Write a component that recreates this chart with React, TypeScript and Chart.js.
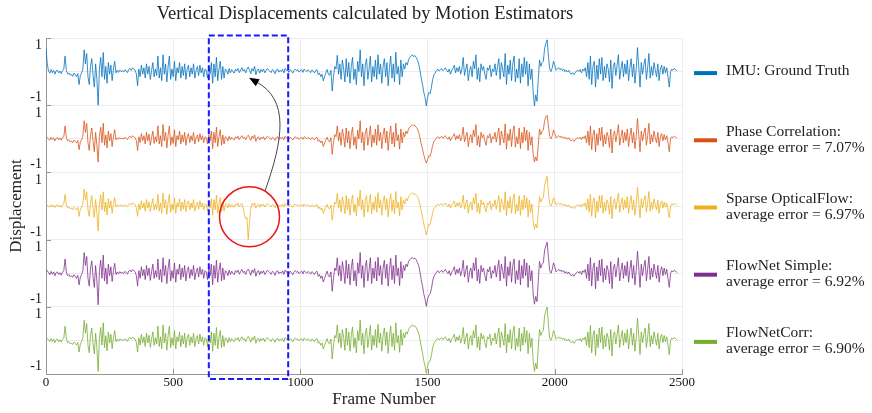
import React, { useEffect, useRef } from "react";
import { Chart, registerables } from "chart.js";

Chart.register(...registerables);

// ---------------- data ----------------
const TITLE = "Vertical Displacements calculated by Motion Estimators";
const X_TITLE = "Frame Number";
const Y_TITLE = "Displacement";
const FRAME_STEP = 5; // frames between samples
const X_MIN = 0;
const X_MAX = 2500;
const X_TICK_STEP = 500;
const Y_TICK_LABELS = ["1", "-1"];
const PANEL_HALF = 1.3; // each panel spans -1.3 .. 1.3

const LEGEND_LABELS = [
  ["IMU: Ground Truth"],
  ["Phase Correlation:", "average error = 7.07%"],
  ["Sparse OpticalFlow:", "average error = 6.97%"],
  ["FlowNet Simple:", "average error = 6.92%"],
  ["FlowNetCorr:", "average error = 6.90%"],
];
const SERIES_COLORS = ["#0072BD", "#D95319", "#EDB120", "#7E2F8E", "#77AC30"];

const IMU = [
  0.9, 0.3, 0.02, -0.06, 0.08, -0.04, 0.05, -0.1, 0.03, 0.06, -0.05, 0.02, -0.08, 0.04, 0.1, 0.6, 0.05, -0.1, -0.05, -0.14,
  -0.1, -0.18, -0.06, -0.12, -0.2, -0.08, -0.5, -0.15, -0.05, 0.1, 0.84, 0.3, 0.7, -0.2, -0.5, 0.2, 0.5, -0.15, -0.6, 0.3,
  -0.3, -1.3, 0.1, 0.55, -0.2, 0.74, -0.3, 0.2, -0.45, 0.35, -0.1, 0.25, -0.35, 0.1, 0.4, -0.05, 0.05, -0.03, 0.06, 0.0,
  0.04, -0.02, 0.07, 0.03, -0.04, 0.08, 0.12, 0.05, 0.15, 0.1, 0.06, -0.08, -0.55, 0.1, -0.2, 0.25, -0.1, 0.15, -0.25, 0.3,
  -0.1, 0.2, -0.3, 0.05, 0.35, -0.2, 0.1, -0.15, 0.6, -0.25, 0.15, -0.35, 0.65, -0.1, 0.3, -0.4, 0.2, 0.6, -0.3, 0.1,
  -0.2, 0.4, -0.35, 0.15, -0.05, 0.35, -0.25, 0.2, -0.15, 0.3, -0.3, 0.1, 0.25, -0.2, 0.15, -0.1, 0.3, -0.25, 0.05, 0.2,
  -0.15, 0.25, -0.05, 0.15, -0.2, 0.1, 0.05, -0.25, 0.2, -0.1, 0.35, -0.45, 0.3, -0.2, 0.55, -0.35, 0.1, 0.4, -0.3, 0.2,
  -0.25, 0.1, 0.05, -0.1, 0.12, -0.05, 0.08, 0.0, -0.06, 0.1, 0.03, 0.12, -0.04, 0.06, 0.15, 0.02, 0.08, -0.05, 0.1, 0.18,
  0.05, -0.08, 0.12, 0.02, 0.2, -0.12, 0.04, 0.1, -0.06, 0.08, 0.0, 0.1, -0.05, 0.04, 0.12, 0.06, 0.02, -0.04, 0.08, 0.03,
  -0.08, 0.06, 0.1, -0.02, 0.05, 0.0, 0.09, -0.05, 0.12, 0.04, 0.06, -0.03, 0.08, 0.02, -0.06, 0.05, 0.1, 0.03, 0.07, -0.02,
  0.04, 0.08, -0.03, 0.1, 0.05, 0.0, 0.07, 0.03, -0.04, 0.06, 0.02, -0.05, 0.04, 0.08, -0.12, -0.05, -0.2, -0.1, -0.36, -0.2,
  -0.05, 0.08, -0.1, -0.15, 0.05, -0.75, -0.2, 0.2, 0.1, 0.63, -0.1, 0.3, -0.3, 0.45, 0.1, -0.4, 0.5, -0.2, 0.35, -0.45,
  0.2, 0.55, -0.3, 0.1, -0.5, 0.4, 0.0, 0.84, -0.2, 0.3, -0.55, 0.25, 0.5, -0.3, 0.1, 0.6, -0.4, 0.2, -0.2, 0.45,
  -0.3, 0.65, -0.1, 0.3, -0.45, 0.2, 0.5, -0.2, 0.35, -0.55, 0.15, 0.6, -0.25, 0.3, -0.4, 0.75, -0.1, 0.2, -0.5, 0.45,
  -0.2, 0.3, 0.1, 0.35, 0.25, 0.45, 0.55, 0.6, 0.65, 0.58, 0.62, 0.55, 0.45, 0.3, 0.05, -0.25, -0.5, -0.8, -1.0, -1.33,
  -1.0, -0.8, -0.85, -0.6, -0.3, -0.12, -0.05, 0.04, 0.1, 0.02, 0.06, 0.12, 0.03, 0.08, 0.15, 0.05, -0.02, 0.1, -0.1, 0.05,
  0.12, 0.25, -0.05, 0.15, 0.0, 0.2, -0.1, 0.1, 0.55, -0.15, 0.1, 0.3, -0.35, 0.05, 0.2, -0.2, 0.4, 0.1, 0.65, -0.3,
  0.15, -0.4, 0.3, 0.05, 0.2, -0.1, -0.3, 0.15, 0.05, 0.25, -0.2, 0.1, 0.0, 0.3, -0.15, 0.2, 0.5, -0.3, 0.35, 0.1,
  -0.2, 0.7, -0.5, 0.25, -0.1, 0.45, -0.35, 0.3, 0.6, -0.4, 0.1, -0.25, 0.5, -0.45, 0.3, -0.2, 0.55, -0.1, 0.4, -0.55,
  0.3, -0.3, 0.1, -0.8, -1.33, -0.9, -1.15, -0.3, 0.45, 0.2, 0.35, 0.4, 0.9, 1.1, 1.23, 0.6, 0.1, 0.0, 0.15, 0.4,
  0.25, 0.05, 0.1, 0.15, 0.08, 0.12, 0.04, 0.1, 0.0, 0.06, -0.02, 0.05, -0.06, -0.1, -0.04, -0.12, -0.05, 0.02, 0.06, 0.0,
  0.08, -0.05, 0.1, 0.03, 0.15, -0.2, 0.35, -0.3, 0.6, -0.5, 0.2, 0.4, -0.6, 0.25, -0.3, 0.5, -0.1, 0.55, -0.35, 0.2,
  -0.25, 0.3, 0.1, -0.4, 0.45, -0.65, 0.2, 0.35, -0.15, 0.25, 0.65, -0.3, 0.1, 0.4, -0.2, 0.3, -0.1, 0.45, -0.35, 0.15,
  0.5, -0.2, 0.3, -0.45, 0.1, 0.93, 0.2, -0.6, 0.35, -0.1, 0.25, 0.5, -0.3, 0.15, 0.7, -0.25, 0.2, -0.15, 0.35, 0.05,
  -0.2, 0.3, -0.35, 0.1, 0.25, -0.1, 0.2, -0.05, 0.15, -0.2, -0.6, 0.0, 0.1, 0.05, 0.12, 0.08, 0.02,
];

const PHASE_CORR = [
  0.1, 0.05, -0.02, -0.05, 0.06, -0.03, 0.04, -0.08, 0.02, 0.05, -0.04, 0.03, -0.06, 0.05, 0.08, 0.5, 0.04, -0.08, -0.04, -0.12,
  -0.08, -0.15, -0.05, -0.1, -0.16, -0.06, -0.42, -0.12, -0.04, 0.1, 0.7, 0.25, 0.6, -0.15, -0.45, 0.15, 0.42, -0.1, -0.5, 0.25,
  -0.25, -0.9, 0.1, 0.45, -0.15, 0.6, -0.25, 0.15, -0.35, 0.3, -0.08, 0.2, -0.3, 0.08, 0.35, -0.04, 0.04, -0.02, 0.05, 0.0,
  0.03, -0.02, 0.06, 0.02, -0.03, 0.06, 0.1, 0.04, 0.12, 0.08, 0.05, -0.06, -0.45, 0.08, -0.15, 0.2, -0.08, 0.12, -0.2, 0.25,
  -0.08, 0.18, -0.25, 0.05, 0.3, -0.18, 0.08, -0.12, 0.5, -0.2, 0.12, -0.3, 0.55, -0.08, 0.25, -0.35, 0.15, 0.5, -0.25, 0.08,
  -0.18, 0.35, -0.3, 0.12, -0.04, 0.3, -0.2, 0.15, -0.12, 0.25, -0.25, 0.08, 0.2, -0.15, 0.12, -0.08, 0.25, -0.2, 0.04, 0.15,
  -0.12, 0.2, -0.04, 0.12, -0.15, 0.08, 0.04, -0.2, 0.15, -0.08, 0.3, -0.38, 0.25, -0.15, 0.45, -0.3, 0.08, 0.35, -0.25, 0.15,
  -0.2, 0.08, 0.04, -0.08, 0.1, -0.04, 0.06, 0.0, -0.05, 0.08, 0.02, 0.1, -0.03, 0.05, 0.12, 0.02, 0.06, -0.04, 0.08, 0.14,
  0.04, -0.06, 0.1, 0.02, 0.15, -0.1, 0.03, 0.08, -0.05, 0.06, 0.0, 0.08, -0.04, 0.03, 0.1, 0.05, 0.02, -0.03, 0.06, 0.02,
  -0.06, 0.05, 0.08, -0.02, 0.04, 0.0, 0.07, -0.04, 0.1, 0.03, 0.05, -0.02, 0.06, 0.02, -0.05, 0.04, 0.08, 0.02, 0.05, -0.02,
  0.03, 0.06, -0.02, 0.08, 0.04, 0.0, 0.05, 0.02, -0.03, 0.05, 0.02, -0.04, 0.03, 0.06, -0.1, -0.04, -0.16, -0.08, -0.3, -0.16,
  -0.04, 0.06, -0.08, -0.12, 0.04, -0.6, -0.16, 0.16, 0.08, 0.5, -0.08, 0.25, -0.25, 0.38, 0.08, -0.32, 0.42, -0.16, 0.3, -0.38,
  0.16, 0.45, -0.25, 0.08, -0.4, 0.34, 0.0, 0.7, -0.16, 0.25, -0.45, 0.2, 0.42, -0.25, 0.08, 0.5, -0.32, 0.16, -0.16, 0.38,
  -0.25, 0.55, -0.08, 0.25, -0.38, 0.16, 0.42, -0.16, 0.3, -0.45, 0.12, 0.5, -0.2, 0.25, -0.32, 0.6, -0.08, 0.16, -0.4, 0.38,
  -0.16, 0.25, 0.08, 0.3, 0.2, 0.38, 0.45, 0.5, 0.55, 0.5, 0.52, 0.45, 0.38, 0.25, 0.04, -0.2, -0.4, -0.62, -0.8, -0.94,
  -0.8, -0.65, -0.68, -0.48, -0.25, -0.1, -0.04, 0.03, 0.08, 0.02, 0.05, 0.1, 0.02, 0.06, 0.12, 0.04, -0.02, 0.08, -0.08, 0.04,
  0.1, 0.2, -0.04, 0.12, 0.0, 0.16, -0.08, 0.08, 0.45, -0.12, 0.08, 0.25, -0.3, 0.04, 0.16, -0.16, 0.34, 0.08, 0.55, -0.25,
  0.12, -0.32, 0.25, 0.04, 0.16, -0.08, -0.25, 0.12, 0.04, 0.2, -0.16, 0.08, 0.0, 0.25, -0.12, 0.16, 0.42, -0.25, 0.3, 0.08,
  -0.16, 0.58, -0.4, 0.2, -0.08, 0.38, -0.3, 0.25, 0.5, -0.32, 0.08, -0.2, 0.42, -0.38, 0.25, -0.16, 0.45, -0.08, 0.34, -0.45,
  0.25, -0.25, 0.08, -0.6, -0.9, -0.7, -0.85, -0.25, 0.38, 0.16, 0.3, 0.34, 0.7, 0.85, 0.91, 0.5, 0.08, 0.0, 0.12, 0.34,
  0.2, 0.04, 0.08, 0.12, 0.06, 0.1, 0.03, 0.08, 0.0, 0.05, -0.02, 0.04, -0.05, -0.08, -0.03, -0.1, -0.04, 0.02, 0.05, 0.0,
  0.06, -0.04, 0.08, 0.02, 0.12, -0.16, 0.3, -0.25, 0.5, -0.42, 0.16, 0.34, -0.5, 0.2, -0.25, 0.42, -0.08, 0.45, -0.3, 0.16,
  -0.2, 0.25, 0.08, -0.34, 0.38, -0.55, 0.16, 0.3, -0.12, 0.2, 0.55, -0.25, 0.08, 0.34, -0.16, 0.25, -0.08, 0.38, -0.3, 0.12,
  0.42, -0.16, 0.25, -0.38, 0.08, 0.78, 0.16, -0.5, 0.3, -0.08, 0.2, 0.42, -0.25, 0.12, 0.6, -0.2, 0.16, -0.12, 0.3, 0.04,
  -0.16, 0.25, -0.3, 0.08, 0.2, -0.08, 0.16, -0.04, 0.12, -0.16, -0.5, 0.0, 0.08, 0.04, 0.1, 0.06, 0.02,
];

const SPARSE_OF = [
  0.05, 0.04, -0.02, -0.04, 0.05, -0.03, 0.04, -0.06, 0.02, 0.04, -0.04, 0.02, -0.05, 0.04, 0.08, 0.45, 0.04, -0.08, -0.04, -0.1,
  -0.08, -0.14, -0.05, -0.1, -0.15, -0.06, -0.4, -0.12, -0.04, 0.08, 0.65, 0.25, 0.55, -0.15, -0.4, 0.15, 0.4, -0.1, -0.45, 0.25,
  -0.25, -0.96, 0.08, 0.42, -0.15, 0.55, -0.22, 0.15, -0.35, 0.28, -0.08, 0.2, -0.28, 0.08, 0.32, -0.04, 0.04, -0.02, 0.05, 0.0,
  0.03, -0.02, 0.05, 0.02, -0.03, 0.06, 0.1, 0.04, 0.12, 0.08, 0.05, -0.06, -0.4, 0.08, -0.15, 0.2, -0.08, 0.12, -0.2, 0.25,
  -0.08, 0.16, -0.22, 0.05, 0.28, -0.16, 0.08, -0.12, 0.45, -0.2, 0.12, -0.28, 0.5, -0.08, 0.25, -0.32, 0.15, 0.45, -0.25, 0.08,
  -0.16, 0.32, -0.28, 0.12, -0.04, 0.28, -0.2, 0.15, -0.12, 0.25, -0.22, 0.08, 0.2, -0.15, 0.12, -0.08, 0.25, -0.2, 0.04, 0.15,
  -0.12, 0.2, -0.04, 0.12, -0.15, 0.08, 0.04, -0.2, 0.15, -0.08, 0.28, -0.35, 0.25, -0.15, 0.42, -0.28, 0.08, 0.32, -0.22, 0.15,
  -0.2, 0.08, 0.04, -0.08, 0.1, -0.04, 0.06, 0.0, -0.05, 0.08, 0.02, 0.1, -0.03, 0.05, 0.1, -0.1, -0.35, -0.5, -0.45, -1.3,
  -0.6, -0.1, 0.1, 0.02, 0.12, -0.08, 0.03, 0.08, -0.05, 0.06, 0.0, 0.08, -0.04, 0.03, 0.1, 0.05, 0.02, -0.03, 0.06, 0.02,
  -0.06, 0.05, 0.08, -0.02, 0.04, 0.0, 0.07, -0.04, 0.1, 0.03, 0.05, -0.02, 0.06, 0.02, -0.05, 0.04, 0.08, 0.02, 0.05, -0.02,
  0.03, 0.06, -0.02, 0.08, 0.04, 0.0, 0.05, 0.02, -0.03, 0.05, 0.02, -0.04, 0.03, 0.06, -0.1, -0.04, -0.15, -0.08, -0.28, -0.15,
  -0.04, 0.06, -0.08, -0.12, 0.04, -0.55, -0.15, 0.15, 0.08, 0.48, -0.08, 0.24, -0.24, 0.36, 0.08, -0.3, 0.4, -0.15, 0.28, -0.36,
  0.15, 0.42, -0.24, 0.08, -0.38, 0.32, 0.0, 0.62, -0.15, 0.24, -0.42, 0.2, 0.4, -0.24, 0.08, 0.45, -0.3, 0.15, -0.15, 0.36,
  -0.24, 0.52, -0.08, 0.24, -0.36, 0.15, 0.4, -0.15, 0.28, -0.42, 0.12, 0.48, -0.2, 0.24, -0.3, 0.56, -0.08, 0.15, -0.38, 0.36,
  -0.15, 0.24, 0.08, 0.28, 0.2, 0.36, 0.42, 0.48, 0.5, 0.46, 0.48, 0.42, 0.36, 0.24, 0.04, -0.2, -0.42, -0.7, -0.9, -1.12,
  -0.9, -0.7, -0.72, -0.5, -0.25, -0.1, -0.04, 0.03, 0.08, 0.02, 0.05, 0.1, 0.02, 0.06, 0.12, 0.04, -0.02, 0.08, -0.08, 0.04,
  0.1, 0.2, -0.04, 0.12, 0.0, 0.15, -0.08, 0.08, 0.42, -0.12, 0.08, 0.24, -0.28, 0.04, 0.15, -0.15, 0.32, 0.08, 0.5, -0.24,
  0.12, -0.3, 0.24, 0.04, 0.15, -0.08, -0.24, 0.12, 0.04, 0.2, -0.15, 0.08, 0.0, 0.24, -0.12, 0.15, 0.4, -0.24, 0.28, 0.08,
  -0.15, 0.55, -0.38, 0.2, -0.08, 0.36, -0.28, 0.24, 0.46, -0.3, 0.08, -0.2, 0.4, -0.36, 0.24, -0.15, 0.42, -0.08, 0.32, -0.42,
  0.24, -0.25, 0.08, -0.6, -0.9, -0.7, -0.85, -0.24, 0.36, 0.15, 0.28, 0.32, 0.8, 1.0, 1.15, 0.5, 0.08, 0.0, 0.12, 0.32,
  0.2, 0.04, 0.08, 0.12, 0.06, 0.1, 0.03, 0.08, 0.0, 0.05, -0.02, 0.04, -0.05, -0.08, -0.03, -0.1, -0.04, 0.02, 0.05, 0.0,
  0.06, -0.04, 0.08, 0.02, 0.12, -0.15, 0.28, -0.24, 0.46, -0.4, 0.15, 0.32, -0.46, 0.2, -0.24, 0.4, -0.08, 0.42, -0.28, 0.15,
  -0.2, 0.24, 0.08, -0.32, 0.36, -0.5, 0.15, 0.28, -0.12, 0.2, 0.5, -0.24, 0.08, 0.32, -0.15, 0.24, -0.08, 0.36, -0.28, 0.12,
  0.4, -0.15, 0.24, -0.36, 0.08, 0.72, 0.15, -0.46, 0.28, -0.08, 0.2, 0.4, -0.24, 0.12, 0.56, -0.2, 0.15, -0.12, 0.28, 0.04,
  -0.15, 0.24, -0.28, 0.08, 0.2, -0.08, 0.15, -0.04, 0.12, -0.15, -0.46, 0.0, 0.08, 0.04, 0.1, 0.06, 0.02,
];

const FLOWNET_SIMPLE = [
  0.15, 0.1, 0.02, -0.06, 0.07, -0.04, 0.05, -0.1, 0.03, 0.05, -0.05, 0.02, -0.08, 0.04, 0.1, 0.55, 0.05, -0.1, -0.05, -0.14,
  -0.1, -0.16, -0.06, -0.12, -0.2, -0.08, -0.45, -0.15, -0.05, 0.1, 0.8, 0.3, 0.65, -0.2, -0.5, 0.2, 0.48, -0.15, -0.55, 0.3,
  -0.3, -1.22, 0.1, 0.5, -0.2, 0.7, -0.3, 0.2, -0.42, 0.35, -0.1, 0.25, -0.32, 0.1, 0.38, -0.05, 0.05, -0.03, 0.06, 0.0,
  0.04, -0.02, 0.07, 0.03, -0.04, 0.08, 0.12, 0.05, 0.14, 0.1, 0.06, -0.08, -0.5, 0.1, -0.2, 0.25, -0.1, 0.15, -0.25, 0.3,
  -0.1, 0.2, -0.28, 0.05, 0.35, -0.2, 0.1, -0.15, 0.55, -0.25, 0.15, -0.35, 0.6, -0.1, 0.3, -0.4, 0.2, 0.55, -0.3, 0.1,
  -0.2, 0.4, -0.35, 0.15, -0.05, 0.35, -0.25, 0.2, -0.15, 0.3, -0.3, 0.1, 0.25, -0.2, 0.15, -0.1, 0.3, -0.25, 0.05, 0.2,
  -0.15, 0.25, -0.05, 0.15, -0.2, 0.1, 0.05, -0.25, 0.2, -0.1, 0.35, -0.45, 0.3, -0.2, 0.5, -0.35, 0.1, 0.4, -0.3, 0.2,
  -0.25, 0.1, 0.05, -0.1, 0.12, -0.05, 0.08, 0.0, -0.06, 0.1, 0.03, 0.12, -0.04, 0.06, 0.15, 0.02, 0.08, -0.05, 0.1, 0.16,
  0.05, -0.08, 0.12, 0.02, 0.18, -0.12, 0.04, 0.1, -0.06, 0.08, 0.0, 0.1, -0.05, 0.04, 0.12, 0.06, 0.02, -0.04, 0.08, 0.03,
  -0.08, 0.06, 0.1, -0.02, 0.05, 0.0, 0.09, -0.05, 0.12, 0.04, 0.06, -0.03, 0.08, 0.02, -0.06, 0.05, 0.1, 0.03, 0.07, -0.02,
  0.04, 0.08, -0.03, 0.1, 0.05, 0.0, 0.07, 0.03, -0.04, 0.06, 0.02, -0.05, 0.04, 0.08, -0.12, -0.05, -0.2, -0.1, -0.34, -0.2,
  -0.05, 0.08, -0.1, -0.15, 0.05, -0.7, -0.2, 0.2, 0.1, 0.6, -0.1, 0.3, -0.3, 0.45, 0.1, -0.4, 0.5, -0.2, 0.35, -0.45,
  0.2, 0.55, -0.3, 0.1, -0.5, 0.4, 0.0, 0.8, -0.2, 0.3, -0.55, 0.25, 0.5, -0.3, 0.1, 0.6, -0.4, 0.2, -0.2, 0.45,
  -0.3, 0.62, -0.1, 0.3, -0.45, 0.2, 0.5, -0.2, 0.35, -0.5, 0.15, 0.58, -0.25, 0.3, -0.4, 0.7, -0.1, 0.2, -0.48, 0.45,
  -0.2, 0.3, 0.1, 0.35, 0.25, 0.45, 0.52, 0.58, 0.6, 0.56, 0.58, 0.52, 0.42, 0.3, 0.05, -0.25, -0.5, -0.8, -1.0, -1.28,
  -1.0, -0.85, -0.8, -0.6, -0.3, -0.12, -0.05, 0.04, 0.1, 0.02, 0.06, 0.12, 0.03, 0.08, 0.15, 0.05, -0.02, 0.1, -0.1, 0.05,
  0.12, 0.25, -0.05, 0.15, 0.0, 0.2, -0.1, 0.1, 0.5, -0.15, 0.1, 0.3, -0.35, 0.05, 0.2, -0.2, 0.4, 0.1, 0.6, -0.3,
  0.15, -0.4, 0.3, 0.05, 0.2, -0.1, -0.3, 0.15, 0.05, 0.25, -0.2, 0.1, 0.0, 0.3, -0.15, 0.2, 0.5, -0.3, 0.35, 0.1,
  -0.2, 0.65, -0.5, 0.25, -0.1, 0.45, -0.35, 0.3, 0.55, -0.4, 0.1, -0.25, 0.5, -0.45, 0.3, -0.2, 0.55, -0.1, 0.4, -0.55,
  0.3, -0.3, 0.1, -0.8, -1.2, -0.9, -1.1, -0.3, 0.45, 0.2, 0.35, 0.4, 0.9, 1.05, 1.2, 0.6, 0.1, 0.0, 0.15, 0.4,
  0.25, 0.05, 0.1, 0.15, 0.08, 0.12, 0.04, 0.1, 0.0, 0.06, -0.02, 0.05, -0.06, -0.1, -0.04, -0.12, -0.05, 0.02, 0.06, 0.0,
  0.08, -0.05, 0.1, 0.03, 0.15, -0.2, 0.35, -0.3, 0.6, -0.5, 0.2, 0.4, -0.6, 0.25, -0.3, 0.5, -0.1, 0.55, -0.35, 0.2,
  -0.25, 0.3, 0.1, -0.4, 0.45, -0.6, 0.2, 0.35, -0.15, 0.25, 0.6, -0.3, 0.1, 0.4, -0.2, 0.3, -0.1, 0.45, -0.35, 0.15,
  0.5, -0.2, 0.3, -0.45, 0.1, 0.85, 0.2, -0.55, 0.35, -0.1, 0.25, 0.5, -0.3, 0.15, 0.65, -0.25, 0.2, -0.15, 0.35, 0.05,
  -0.2, 0.3, -0.35, 0.1, 0.25, -0.1, 0.2, -0.05, 0.15, -0.2, -0.55, 0.0, 0.1, 0.05, 0.12, 0.08, 0.02,
];

const FLOWNET_CORR = [
  0.1, 0.08, 0.02, -0.05, 0.07, -0.04, 0.05, -0.09, 0.03, 0.05, -0.05, 0.02, -0.07, 0.04, 0.09, 0.55, 0.05, -0.09, -0.05, -0.13,
  -0.1, -0.16, -0.06, -0.11, -0.18, -0.08, -0.45, -0.14, -0.05, 0.1, 0.78, 0.28, 0.65, -0.18, -0.48, 0.2, 0.48, -0.14, -0.52, 0.28,
  -0.28, -1.2, 0.1, 0.5, -0.18, 0.68, -0.28, 0.18, -0.4, 0.32, -0.1, 0.24, -0.32, 0.1, 0.38, -0.05, 0.05, -0.03, 0.06, 0.0,
  0.04, -0.02, 0.06, 0.03, -0.04, 0.07, 0.11, 0.05, 0.13, 0.09, 0.06, -0.07, -0.45, 0.1, -0.18, 0.24, -0.1, 0.14, -0.24, 0.28,
  -0.1, 0.2, -0.27, 0.05, 0.33, -0.19, 0.1, -0.14, 0.55, -0.24, 0.14, -0.33, 0.6, -0.1, 0.28, -0.38, 0.19, 0.55, -0.28, 0.1,
  -0.19, 0.38, -0.33, 0.14, -0.05, 0.33, -0.24, 0.19, -0.14, 0.28, -0.28, 0.1, 0.24, -0.19, 0.14, -0.1, 0.28, -0.24, 0.05, 0.19,
  -0.14, 0.24, -0.05, 0.14, -0.19, 0.1, 0.05, -0.24, 0.19, -0.1, 0.33, -0.42, 0.28, -0.19, 0.5, -0.33, 0.1, 0.38, -0.28, 0.19,
  -0.24, 0.1, 0.05, -0.09, 0.11, -0.05, 0.07, 0.0, -0.05, 0.09, 0.03, 0.11, -0.04, 0.06, 0.14, 0.02, 0.07, -0.05, 0.09, 0.15,
  0.05, -0.07, 0.11, 0.02, 0.17, -0.11, 0.04, 0.09, -0.05, 0.07, 0.0, 0.09, -0.05, 0.04, 0.11, 0.05, 0.02, -0.04, 0.07, 0.03,
  -0.07, 0.05, 0.09, -0.02, 0.05, 0.0, 0.08, -0.05, 0.11, 0.04, 0.05, -0.03, 0.07, 0.02, -0.05, 0.05, 0.09, 0.03, 0.06, -0.02,
  0.04, 0.07, -0.03, 0.09, 0.05, 0.0, 0.06, 0.03, -0.04, 0.05, 0.02, -0.05, 0.04, 0.07, -0.11, -0.05, -0.19, -0.1, -0.33, -0.19,
  -0.05, 0.07, -0.1, -0.14, 0.05, -0.72, -0.19, 0.19, 0.1, 0.6, -0.1, 0.28, -0.28, 0.42, 0.1, -0.38, 0.48, -0.19, 0.33, -0.42,
  0.19, 0.52, -0.28, 0.1, -0.48, 0.38, 0.0, 0.78, -0.19, 0.28, -0.52, 0.24, 0.48, -0.28, 0.1, 0.58, -0.38, 0.19, -0.19, 0.42,
  -0.28, 0.62, -0.1, 0.28, -0.42, 0.19, 0.48, -0.19, 0.33, -0.5, 0.14, 0.56, -0.24, 0.28, -0.38, 0.68, -0.1, 0.19, -0.46, 0.42,
  -0.19, 0.28, 0.1, 0.33, 0.24, 0.42, 0.5, 0.56, 0.6, 0.55, 0.56, 0.5, 0.4, 0.28, 0.05, -0.24, -0.48, -0.78, -1.0, -1.27,
  -1.0, -0.82, -0.8, -0.58, -0.28, -0.11, -0.05, 0.04, 0.09, 0.02, 0.06, 0.11, 0.03, 0.07, 0.14, 0.05, -0.02, 0.09, -0.09, 0.05,
  0.11, 0.24, -0.05, 0.14, 0.0, 0.19, -0.1, 0.09, 0.5, -0.14, 0.09, 0.28, -0.33, 0.05, 0.19, -0.19, 0.38, 0.09, 0.6, -0.28,
  0.14, -0.38, 0.28, 0.05, 0.19, -0.09, -0.28, 0.14, 0.05, 0.24, -0.19, 0.09, 0.0, 0.28, -0.14, 0.19, 0.48, -0.28, 0.33, 0.09,
  -0.19, 0.65, -0.48, 0.24, -0.09, 0.42, -0.33, 0.28, 0.55, -0.38, 0.09, -0.24, 0.48, -0.42, 0.28, -0.19, 0.52, -0.09, 0.38, -0.52,
  0.28, -0.28, 0.09, -0.8, -1.2, -0.88, -1.1, -0.28, 0.42, 0.19, 0.33, 0.38, 0.95, 1.15, 1.29, 0.6, 0.09, 0.0, 0.14, 0.38,
  0.24, 0.05, 0.09, 0.14, 0.07, 0.11, 0.04, 0.09, 0.0, 0.05, -0.02, 0.05, -0.05, -0.09, -0.04, -0.11, -0.05, 0.02, 0.05, 0.0,
  0.07, -0.05, 0.09, 0.03, 0.14, -0.19, 0.33, -0.28, 0.58, -0.48, 0.19, 0.38, -0.58, 0.24, -0.28, 0.48, -0.09, 0.52, -0.33, 0.19,
  -0.24, 0.28, 0.09, -0.38, 0.42, -0.6, 0.19, 0.33, -0.14, 0.24, 0.6, -0.28, 0.09, 0.38, -0.19, 0.28, -0.09, 0.42, -0.33, 0.14,
  0.48, -0.19, 0.28, -0.42, 0.09, 0.85, 0.19, -0.55, 0.33, -0.09, 0.24, 0.48, -0.28, 0.14, 0.65, -0.24, 0.19, -0.14, 0.33, 0.05,
  -0.19, 0.28, -0.33, 0.09, 0.24, -0.09, 0.19, -0.05, 0.14, -0.19, -0.55, 0.0, 0.09, 0.05, 0.11, 0.07, 0.02,
];

const SERIES = [IMU, PHASE_CORR, SPARSE_OF, FLOWNET_SIMPLE, FLOWNET_CORR];

// annotation anchors (in data terms)
const BOX_FRAMES = [640, 952];
const CIRCLE_FRAME = 800;
const CIRCLE_PANEL = 2;
const CIRCLE_VALUE = -0.42;
const ARROW_TARGET_FRAME = 798;
const ARROW_TARGET_PANEL = 0;
const ARROW_TARGET_VALUE = -0.24;

// ---------------- helpers ----------------
const FONT = "'Liberation Serif', 'Times New Roman', Times, serif";
const GRID = "rgb(236,236,236)";
const AXIS = "rgb(150,150,150)";
const N_PANELS = SERIES.length;
const panelCenter = (k: number) => -(2 * k + 1) * PANEL_HALF;

type TickDef = { value: number; label: string; grid: boolean; boundary: boolean };
const Y_TICKS: TickDef[] = [];
for (let k = 0; k <= N_PANELS; k++) {
  Y_TICKS.push({ value: -2 * k * PANEL_HALF, label: "", grid: true, boundary: true });
}
for (let k = 0; k < N_PANELS; k++) {
  const c = panelCenter(k);
  Y_TICKS.push({ value: c, label: "", grid: true, boundary: false });
  Y_TICKS.push({ value: c + 1, label: Y_TICK_LABELS[0], grid: false, boundary: false });
  Y_TICKS.push({ value: c - 1, label: Y_TICK_LABELS[1], grid: false, boundary: false });
}
Y_TICKS.sort((a, b) => a.value - b.value);

const overlayPlugin = {
  id: "overlay",
  afterDatasetsDraw(chart: any) {
    const { ctx, chartArea, scales } = chart;
    const xs = scales.x;
    const ys = scales.y;
    ctx.save();
    // inward tick marks
    ctx.strokeStyle = AXIS;
    ctx.lineWidth = 1;
    ctx.beginPath();
    for (let v = X_MIN; v <= X_MAX; v += X_TICK_STEP) {
      const px = Math.round(xs.getPixelForValue(v)) + 0.5;
      ctx.moveTo(px, chartArea.bottom);
      ctx.lineTo(px, chartArea.bottom - 5);
    }
    Y_TICKS.filter((t) => t.boundary).forEach((t) => {
      const py = Math.round(ys.getPixelForValue(t.value)) + 0.5;
      ctx.moveTo(chartArea.left, py);
      ctx.lineTo(chartArea.left + 5, py);
    });
    ctx.stroke();

    // dashed highlight box
    const bx0 = xs.getPixelForValue(BOX_FRAMES[0]);
    const bx1 = xs.getPixelForValue(BOX_FRAMES[1]);
    ctx.strokeStyle = "rgb(25,25,255)";
    ctx.lineWidth = 2;
    ctx.setLineDash([6, 3]);
    ctx.strokeRect(bx0, chartArea.top - 2.5, bx1 - bx0, chartArea.bottom - chartArea.top + 7.5);
    ctx.setLineDash([]);

    // red circle
    const cx = xs.getPixelForValue(CIRCLE_FRAME);
    const cy = ys.getPixelForValue(panelCenter(CIRCLE_PANEL) + CIRCLE_VALUE);
    const r = 30;
    ctx.strokeStyle = "rgb(240,20,20)";
    ctx.lineWidth = 1.5;
    ctx.beginPath();
    ctx.arc(cx, cy, r, 0, Math.PI * 2);
    ctx.stroke();

    // curved arrow
    const tx = xs.getPixelForValue(ARROW_TARGET_FRAME);
    const ty = ys.getPixelForValue(panelCenter(ARROW_TARGET_PANEL) + ARROW_TARGET_VALUE);
    const a0 = -59 * (Math.PI / 180);
    const p0x = cx + r * Math.cos(a0);
    const p0y = cy + r * Math.sin(a0);
    const dirx = -0.874, diry = -0.485;
    const p3x = tx - dirx * 8;
    const p3y = ty - diry * 8;
    ctx.strokeStyle = "rgb(70,70,70)";
    ctx.lineWidth = 1;
    ctx.beginPath();
    ctx.moveTo(p0x, p0y);
    ctx.bezierCurveTo(p0x + 18, p0y - 51, p3x + 34, p3y + 18, p3x, p3y);
    ctx.stroke();
    // arrow head
    const hl = 10, hw = 4;
    const bxh = tx - dirx * hl, byh = ty - diry * hl;
    ctx.fillStyle = "#000";
    ctx.beginPath();
    ctx.moveTo(tx, ty);
    ctx.lineTo(bxh - diry * hw, byh + dirx * hw);
    ctx.lineTo(bxh + diry * hw, byh - dirx * hw);
    ctx.closePath();
    ctx.fill();
    ctx.restore();
  },
  afterDraw(chart: any) {
    const { ctx, chartArea, scales } = chart;
    const ys = scales.y;
    ctx.save();
    ctx.fillStyle = "#222";
    ctx.textAlign = "center";
    ctx.textBaseline = "middle";
    // title
    ctx.font = `18.5px ${FONT}`;
    ctx.fillText(TITLE, (chartArea.left + chartArea.right) / 2 + 1, 14);
    // x title
    ctx.font = `17px ${FONT}`;
    ctx.fillText(X_TITLE, chartArea.left + (chartArea.right - chartArea.left) / 2 + 20, 400);
    // y title
    ctx.save();
    ctx.translate(16.5, (chartArea.top + chartArea.bottom) / 2);
    ctx.rotate(-Math.PI / 2);
    ctx.fillText(Y_TITLE, 0, 0);
    ctx.restore();
    // legend
    ctx.textAlign = "left";
    ctx.font = `15.5px ${FONT}`;
    LEGEND_LABELS.forEach((lines, k) => {
      const yc = ys.getPixelForValue(panelCenter(k)) + 1.5;
      ctx.fillStyle = SERIES_COLORS[k];
      ctx.fillRect(694, yc - 2, 23, 4);
      ctx.fillStyle = "#222";
      if (lines.length === 1) {
        ctx.fillText(lines[0], 726, yc - 2);
      } else {
        ctx.fillText(lines[0], 726, yc - 8.5);
        ctx.fillText(lines[1], 726, yc + 7.2);
      }
    });
    ctx.restore();
  },
};

export default function App() {
  const canvasRef = useRef<HTMLCanvasElement | null>(null);

  useEffect(() => {
    const canvas = canvasRef.current;
    if (!canvas) return;
    Chart.defaults.font.family = FONT;

    const datasets = SERIES.map((values, k) => ({
      label: LEGEND_LABELS[k].join(" "),
      data: values.map((v, i) => ({ x: i * FRAME_STEP, y: v + panelCenter(k) })),
      borderColor: SERIES_COLORS[k] + "C8",
      borderWidth: 1,
      pointRadius: 0,
      tension: 0,
      fill: false,
    }));

    const chart = new Chart(canvas, {
      type: "line",
      data: { datasets },
      options: {
        animation: false,
        responsive: false,
        events: [],
        layout: { padding: { top: 38, right: 190, left: 0, bottom: 0 } },
        plugins: {
          legend: { display: false },
          title: { display: false },
          tooltip: { enabled: false },
        },
        scales: {
          x: {
            type: "linear",
            min: X_MIN,
            max: X_MAX,
            afterFit: (s: any) => {
              s.height = 39;
            },
            ticks: {
              stepSize: X_TICK_STEP,
              color: "#111",
              font: { size: 13, family: FONT },
              padding: 1,
              maxRotation: 0,
              callback: (v: any) => String(v),
            },
            grid: { color: GRID, drawTicks: false },
            border: { color: AXIS, width: 1 },
          },
          y: {
            type: "linear",
            min: -2 * N_PANELS * PANEL_HALF,
            max: 0,
            afterFit: (s: any) => {
              s.width = 46;
            },
            afterBuildTicks: (s: any) => {
              s.ticks = Y_TICKS.map((t) => ({ value: t.value }));
            },
            ticks: {
              autoSkip: false,
              color: "#111",
              font: { size: 14, family: FONT },
              padding: 4,
              callback: (_v: any, i: number) => Y_TICKS[i].label,
            },
            grid: {
              drawTicks: false,
              color: (c: any) => (Y_TICKS[c.index] && Y_TICKS[c.index].grid ? GRID : "rgba(0,0,0,0)"),
            },
            border: { color: AXIS, width: 1 },
          },
        },
      },
      plugins: [overlayPlugin],
    });

    return () => chart.destroy();
  }, []);

  return (
    <div style={{ position: "fixed", left: 0, top: 0, width: 872, height: 413, background: "#fff" }}>
      <canvas ref={canvasRef} width={872} height={413} style={{ display: "block" }} />
    </div>
  );
}
